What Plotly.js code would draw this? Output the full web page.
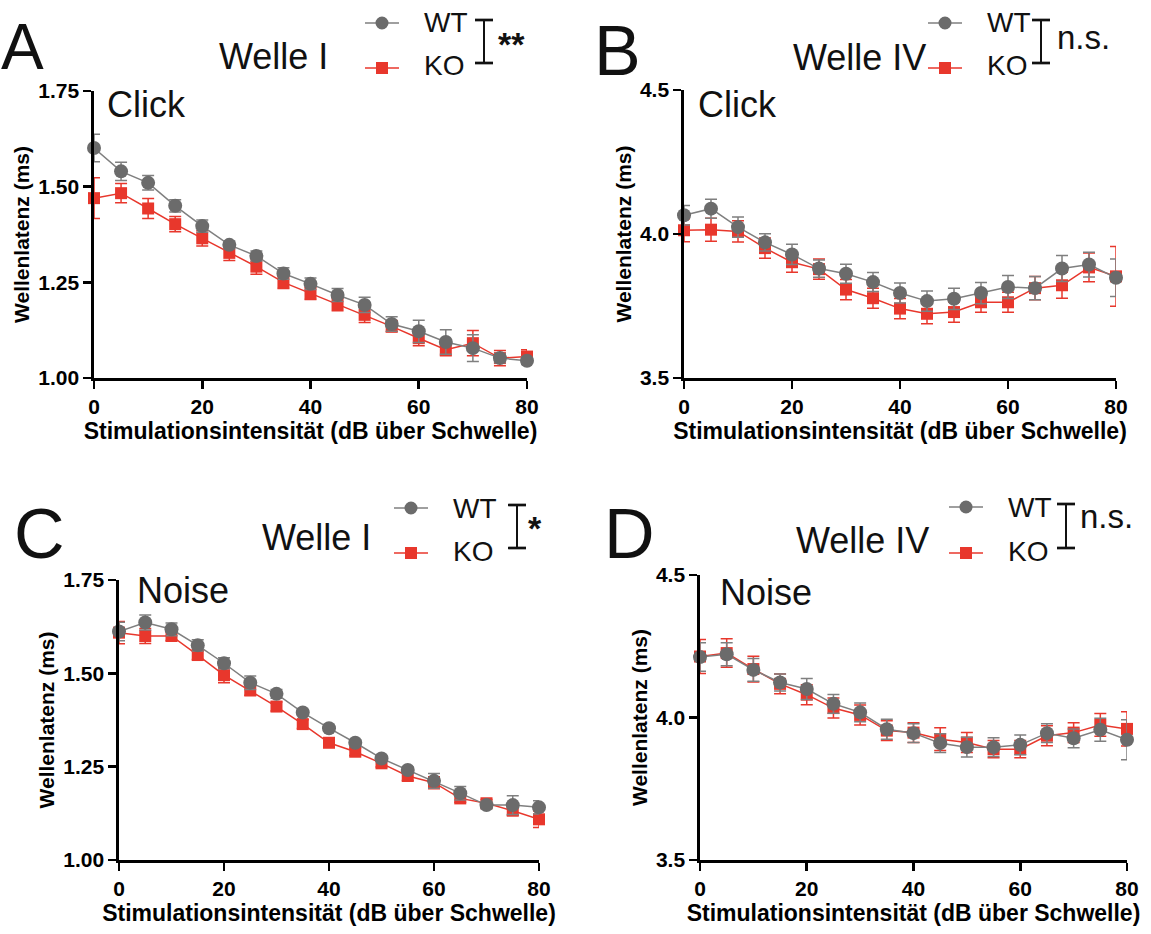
<!DOCTYPE html>
<html>
<head>
<meta charset="utf-8">
<script src="https://cdn.plot.ly/plotly-3.0.1.min.js"></script>
<style>html,body{margin:0;padding:0;background:#fff;}#chart{width:1151px;height:934px;}</style>
</head>
<body>
<div id="chart"></div>
<script>
// ---- Data ----
const intensity = [0,5,10,15,20,25,30,35,40,45,50,55,60,65,70,75,80];

// Panel A: Welle I, Click
const A_WT     = [1.601,1.540,1.510,1.450,1.397,1.348,1.319,1.273,1.246,1.217,1.191,1.141,1.122,1.094,1.078,1.052,1.045];
const A_WT_err = [0.036,0.024,0.019,0.016,0.016,0.010,0.013,0.015,0.015,0.017,0.020,0.019,0.029,0.032,0.035,0.012,0.010];
const A_KO     = [1.470,1.483,1.443,1.402,1.365,1.327,1.291,1.250,1.221,1.193,1.165,1.135,1.104,1.074,1.091,1.052,1.056];
const A_KO_err = [0.053,0.025,0.026,0.020,0.020,0.020,0.020,0.016,0.016,0.017,0.020,0.015,0.020,0.016,0.033,0.020,0.018];

// Panel B: Welle IV, Click
const B_WT     = [4.065,4.088,4.024,3.971,3.929,3.880,3.862,3.833,3.795,3.767,3.775,3.795,3.816,3.812,3.880,3.894,3.848];
const B_WT_err = [0.034,0.033,0.035,0.030,0.035,0.030,0.033,0.033,0.035,0.035,0.037,0.037,0.040,0.040,0.045,0.043,0.065];
const B_KO     = [4.013,4.015,4.009,3.951,3.902,3.878,3.807,3.777,3.741,3.723,3.729,3.763,3.763,3.812,3.822,3.884,3.853];
const B_KO_err = [0.040,0.040,0.037,0.035,0.035,0.035,0.035,0.035,0.035,0.035,0.035,0.035,0.035,0.040,0.045,0.050,0.104];

// Panel C: Welle I, Noise
const C_WT     = [1.612,1.636,1.618,1.575,1.527,1.475,1.445,1.395,1.353,1.314,1.272,1.241,1.212,1.179,1.147,1.147,1.141];
const C_WT_err = [0.025,0.020,0.017,0.015,0.015,0.018,0.012,0.008,0.008,0.008,0.008,0.008,0.020,0.018,0.010,0.025,0.018];
const C_KO     = [1.609,1.600,1.600,1.549,1.495,1.454,1.411,1.364,1.314,1.290,1.259,1.225,1.207,1.165,1.152,1.132,1.109];
const C_KO_err = [0.030,0.020,0.012,0.012,0.020,0.013,0.012,0.012,0.010,0.010,0.010,0.012,0.016,0.010,0.010,0.012,0.022];

// Panel D: Welle IV, Noise
const D_WT     = [4.212,4.222,4.167,4.123,4.100,4.048,4.018,3.959,3.945,3.910,3.896,3.896,3.904,3.945,3.927,3.957,3.922];
const D_WT_err = [0.050,0.040,0.040,0.030,0.037,0.033,0.033,0.035,0.033,0.033,0.035,0.033,0.035,0.033,0.033,0.040,0.070];
const D_KO     = [4.214,4.226,4.170,4.118,4.080,4.033,4.009,3.954,3.947,3.924,3.912,3.889,3.889,3.936,3.947,3.974,3.960];
const D_KO_err = [0.060,0.050,0.045,0.035,0.035,0.035,0.035,0.035,0.035,0.040,0.035,0.030,0.030,0.035,0.035,0.040,0.060];

const xTicks = [0,20,40,60,80];
const yTicksI = [1.00,1.25,1.50,1.75];
const yTicksIV = [3.5,4.0,4.5];
const panelLetters = ['A','B','C','D'];
const waveLabels = ['Welle I','Welle IV','Welle I','Welle IV'];
const stimLabels = ['Click','Click','Noise','Noise'];
const sigLabels = ['**','n.s.','*','n.s.'];
const seriesNames = ['WT','KO'];
const xTitle = 'Stimulationsintensität (dB über Schwelle)';
const yTitle = 'Wellenlatenz (ms)';

// ---- Styling / layout ----
const W = 1151, H = 934;
const px = x => x / W;
const py = y => 1 - y / H;
const GRAY = '#6b6b6b', GRAYLINE = '#7f7f7f', RED = '#e8372c';
const FONT = 'Liberation Sans, Arial, sans-serif';

// plot boxes in pixels: [x0, x1, yTop, yBottom]
const boxes = [
  [94, 527, 91, 378],
  [684, 1116, 90, 378],
  [119, 539, 580, 860],
  [700, 1127, 575, 860]
];
const panelData = [
  [A_WT, A_WT_err, A_KO, A_KO_err, [1.0,1.75], yTicksI, '.2f'],
  [B_WT, B_WT_err, B_KO, B_KO_err, [3.5,4.5], yTicksIV, '.1f'],
  [C_WT, C_WT_err, C_KO, C_KO_err, [1.0,1.75], yTicksI, '.2f'],
  [D_WT, D_WT_err, D_KO, D_KO_err, [3.5,4.5], yTicksIV, '.1f']
];

const traces = [];
const layout = {
  width: W, height: H,
  margin: {l:0, r:0, t:0, b:0},
  paper_bgcolor: '#ffffff', plot_bgcolor: 'rgba(0,0,0,0)',
  showlegend: false,
  font: {family: FONT, color: '#000'},
  annotations: [], shapes: []
};

panelData.forEach((pd, i) => {
  const n = i + 1;
  const xa = n === 1 ? 'x' : 'x' + n;
  const ya = n === 1 ? 'y' : 'y' + n;
  const [wt, wtErr, ko, koErr, yr, yt, yf] = pd;
  const b = boxes[i];
  traces.push({
    x: intensity, y: ko, xaxis: xa, yaxis: ya, type: 'scatter', mode: 'lines+markers',
    name: seriesNames[1], cliponaxis: false,
    line: {color: RED, width: 1.5},
    marker: {symbol: 'square', size: 12, color: RED},
    error_y: {type: 'data', array: koErr, visible: true, color: RED, thickness: 1.5, width: 6}
  });
  traces.push({
    x: intensity, y: wt, xaxis: xa, yaxis: ya, type: 'scatter', mode: 'lines+markers',
    name: seriesNames[0], cliponaxis: false,
    line: {color: GRAYLINE, width: 1.5},
    marker: {symbol: 'circle', size: 14, color: GRAY},
    error_y: {type: 'data', array: wtErr, visible: true, color: GRAYLINE, thickness: 1.5, width: 6}
  });
  const axCommon = {
    showline: true, linecolor: '#000', linewidth: 2.7, ticks: 'outside', ticklen: 8, tickwidth: 2.7,
    tickcolor: '#000', showgrid: false, zeroline: false, fixedrange: true,
    tickfont: {family: FONT, size: 21, weight: 'bold', color: '#000'}
  };
  layout['xaxis' + (n === 1 ? '' : n)] = Object.assign({}, axCommon, {
    domain: [px(b[0]), px(b[1])], anchor: ya, range: [0, 80],
    tickvals: xTicks, ticklabelstandoff: 0,
    title: {text: xTitle, font: {family: FONT, size: 23, weight: 'bold', color: '#000'}, standoff: 0}
  });
  layout['yaxis' + (n === 1 ? '' : n)] = Object.assign({}, axCommon, {
    domain: [py(b[3]), py(b[2])], anchor: xa, range: yr,
    tickvals: yt, tickformat: yf, ticklabelstandoff: 0,
    title: {text: yTitle, font: {family: FONT, size: 21, weight: 'bold', color: '#000'}, standoff: 3}
  });
});

// Panel decorations (letters, wave labels, stimulus labels, legends, significance brackets)
const deco = [
  {letter:[22,47], wave:[273,56], stim:[146,105], leg:[382,23,68], br:484, sig:[512,44]},
  {letter:[617,51], wave:[859,57], stim:[737,105], leg:[945,23,68], br:1041, sig:[1083,38]},
  {letter:[39,534], wave:[316,537], stim:[183,590], leg:[411,508,553], br:517, sig:[535,528]},
  {letter:[629,534], wave:[862,540], stim:[766,592], leg:[966,507,553], br:1066, sig:[1106,516]}
];
deco.forEach((d, i) => {
  layout.annotations.push({xref:'paper', yref:'paper', x:px(d.letter[0]), y:py(d.letter[1]), text: panelLetters[i],
    showarrow:false, xanchor:'center', yanchor:'middle', font:{family:FONT, size: i === 0 ? 64 : 70, color:'#111'}});
  layout.annotations.push({xref:'paper', yref:'paper', x:px(d.wave[0]), y:py(d.wave[1]), text: waveLabels[i],
    showarrow:false, xanchor:'center', yanchor:'middle', font:{family:FONT, size:36, color:'#111'}});
  layout.annotations.push({xref:'paper', yref:'paper', x:px(d.stim[0]), y:py(d.stim[1]), text: stimLabels[i],
    showarrow:false, xanchor:'center', yanchor:'middle', font:{family:FONT, size:36, color:'#111'}});
  const lx = d.leg[0], yw = d.leg[1], yk = d.leg[2];
  // legend line segments and markers
  layout.shapes.push({type:'line', xref:'paper', yref:'paper', x0:px(lx-17), x1:px(lx+17), y0:py(yw), y1:py(yw), line:{color:GRAYLINE, width:1.5}});
  layout.shapes.push({type:'circle', xref:'paper', yref:'paper', x0:px(lx-6.5), x1:px(lx+6.5), y0:py(yw-6.5), y1:py(yw+6.5), fillcolor:GRAY, line:{width:0}});
  layout.shapes.push({type:'line', xref:'paper', yref:'paper', x0:px(lx-17), x1:px(lx+17), y0:py(yk), y1:py(yk), line:{color:RED, width:1.5}});
  layout.shapes.push({type:'rect', xref:'paper', yref:'paper', x0:px(lx-6), x1:px(lx+6), y0:py(yk-6), y1:py(yk+6), fillcolor:RED, line:{width:0}});
  layout.annotations.push({xref:'paper', yref:'paper', x:px(lx+40), y:py(yw), text: seriesNames[0],
    showarrow:false, xanchor:'left', yanchor:'middle', font:{family:FONT, size:28, color:'#111'}});
  layout.annotations.push({xref:'paper', yref:'paper', x:px(lx+40), y:py(yk - 2), text: seriesNames[1],
    showarrow:false, xanchor:'left', yanchor:'middle', font:{family:FONT, size:28, color:'#111'}});
  // significance bracket
  const bx = d.br;
  layout.shapes.push({type:'line', xref:'paper', yref:'paper', x0:px(bx), x1:px(bx), y0:py(yw-3), y1:py(yk-5), line:{color:'#111', width:2}});
  layout.shapes.push({type:'line', xref:'paper', yref:'paper', x0:px(bx-9), x1:px(bx+9), y0:py(yw-3), y1:py(yw-3), line:{color:'#111', width:2.7}});
  layout.shapes.push({type:'line', xref:'paper', yref:'paper', x0:px(bx-9), x1:px(bx+9), y0:py(yk-5), y1:py(yk-5), line:{color:'#111', width:2.7}});
  const isNs = sigLabels[i] === 'n.s.';
  layout.annotations.push({xref:'paper', yref:'paper', x:px(d.sig[0]), y:py(d.sig[1]), text: sigLabels[i],
    showarrow:false, xanchor:'center', yanchor:'middle',
    font:{family:FONT, size: isNs ? 33 : 34, weight: isNs ? 'normal' : 'bold', color:'#111'}});
});

Plotly.newPlot('chart', traces, layout, {staticPlot: true, displayModeBar: false});
</script>
</body>
</html>
